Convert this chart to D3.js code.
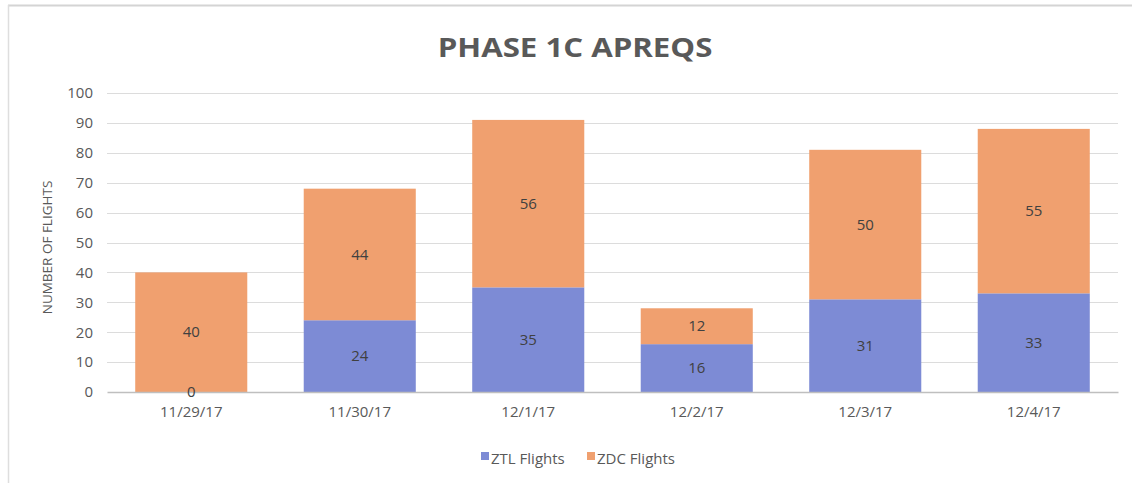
<!DOCTYPE html>
<html>
<head>
<meta charset="utf-8">
<script src="https://cdn.jsdelivr.net/npm/d3@7"></script>
<style>
  body { margin: 0; background: #fff; }
  svg { display: block; font-family: "Open Sans", sans-serif; }
</style>
</head>
<body>
<svg width="1132" height="483"></svg>
<script>
//	chart data
var dates = ["11/29/17", "11/30/17", "12/1/17", "12/2/17", "12/3/17", "12/4/17"];
var ztlFlights = [0, 24, 35, 16, 31, 33];
var zdcFlights = [40, 44, 56, 12, 50, 55];
var seriesNames = ["ZTL Flights", "ZDC Flights"];
var seriesColors = ["#7d8bd5", "#f0a06f"];
var yTicks = [0, 10, 20, 30, 40, 50, 60, 70, 80, 90, 100];

var svg = d3.select("svg");
var margin = {top: 93, right: 14, bottom: 91, left: 107};
var width = svg.attr("width") - margin.left - margin.right,
	height = svg.attr("height") - margin.top - margin.bottom;

//	frame round the chart
svg.append("line").attr("x1", 8).attr("x2", 1132).attr("y1", 5.5).attr("y2", 5.5)
	.attr("stroke", "#d4d4d4").attr("stroke-width", 2);
svg.append("line").attr("x1", 8.5).attr("x2", 8.5).attr("y1", 5).attr("y2", 483)
	.attr("stroke", "#dedede").attr("stroke-width", 1.5);

//	title, a bit wider than the font gives
svg.append("text")
	.attr("transform", "translate(575,57) scale(1.2,1)")
	.attr("text-anchor", "middle")
	.attr("font-size", 26).attr("font-weight", "bold")
	.attr("fill", "#595959")
	.text("PHASE 1C APREQS");

var g = svg.append("g").attr("transform", "translate(" + margin.left + "," + margin.top + ")");

var x = d3.scaleBand().domain(dates).range([0, width]).paddingInner(0.335).paddingOuter(0.1675);
var y = d3.scaleLinear().domain([0, 100]).range([height, 0]);

//	grid lines
g.append("g").selectAll("line").data(yTicks.slice(1)).enter().append("line")
	.attr("x1", 0).attr("x2", width)
	.attr("y1", function(d) { return Math.round(y(d)) + 0.5; })
	.attr("y2", function(d) { return Math.round(y(d)) + 0.5; })
	.attr("stroke", "#dcdcdc");

//	y axis labels
var axisY = g.append("g").call(d3.axisLeft(y).tickValues(yTicks).tickSize(0).tickPadding(14));
axisY.select(".domain").remove();
axisY.selectAll("text").attr("font-size", 15).attr("fill", "#595959").attr("font-family", "Open Sans, sans-serif");

//	stacked bars
var rows = dates.map(function(d, i) { return {date: d, ztl: ztlFlights[i], zdc: zdcFlights[i]}; });
var stack = d3.stack().keys(["ztl", "zdc"])(rows);

var layers = g.selectAll(".layer").data(stack).enter().append("g")
	.attr("class", "layer")
	.attr("fill", function(d, i) { return seriesColors[i]; });

layers.selectAll("rect").data(function(d) { return d; }).enter().append("rect")
	.attr("x", function(d) { return x(d.data.date); })
	.attr("width", x.bandwidth())
	.attr("y", function(d) { return y(d[1]); })
	.attr("height", function(d) { return y(d[0]) - y(d[1]); });

//	x axis
var axisX = g.append("g")
	.attr("transform", "translate(0," + height + ")")
	.call(d3.axisBottom(x).tickSize(0).tickPadding(14));
axisX.select(".domain").attr("stroke", "#bfbfbf").attr("stroke-width", 1.5);
axisX.selectAll("text").attr("font-size", 15).attr("fill", "#595959").attr("font-family", "Open Sans, sans-serif");

//	value labels go on top of everything, so the 0 stays visible
var labels = [];
stack.forEach(function(s) {
	s.forEach(function(p) { labels.push({p: p, key: s.key}); });
});
g.append("g").selectAll("text").data(labels).enter().append("text")
	.attr("x", function(d) { return x(d.p.data.date) + x.bandwidth() / 2; })
	.attr("y", function(d) { return (y(d.p[0]) + y(d.p[1])) / 2; })
	.attr("dy", "0.35em")
	.attr("text-anchor", "middle")
	.attr("font-size", 15)
	.attr("fill", "#404040")
	.text(function(d) { return d.p.data[d.key]; });

//	y axis title
svg.append("text")
	.attr("transform", "translate(52," + (margin.top + height / 2 + 5) + ") rotate(-90)")
	.attr("text-anchor", "middle")
	.attr("font-size", 13.5)
	.attr("fill", "#595959")
	.text("NUMBER OF FLIGHTS");

//	legend
var legend = svg.append("g").attr("transform", "translate(481,459)");
var items = legend.selectAll("g").data(seriesNames).enter().append("g")
	.attr("transform", function(d, i) { return "translate(" + (i * 106) + ",0)"; });
items.append("rect").attr("x", 0).attr("y", -7).attr("width", 8).attr("height", 8)
	.attr("fill", function(d, i) { return seriesColors[i]; });
items.append("text").attr("x", 10).attr("y", 0).attr("dy", "0.3em")
	.attr("font-size", 15).attr("fill", "#595959")
	.text(function(d) { return d; });
</script>
</body>
</html>
